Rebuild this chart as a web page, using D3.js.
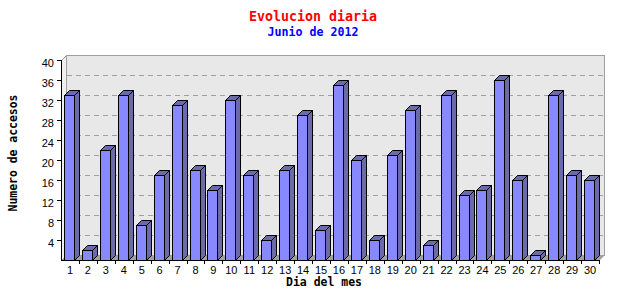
<!DOCTYPE html>
<html lang="es">
<head>
    <meta charset="UTF-8">
    <script src="https://cdn.jsdelivr.net/npm/d3@7/dist/d3.min.js"></script>
    <title>Evolucion diaria</title>
    <style>
        body { margin: 0; background: #fff; }
        svg { display: block; }
    </style>
</head>
<body>
    <svg id="chart"></svg>
</body>

<script>
    const dias = ["1","2","3","4","5","6","7","8","9","10","11","12","13","14","15",
                  "16","17","18","19","20","21","22","23","24","25","26","27","28","29","30"];
    const accesos = [33, 2, 22, 33, 7, 17, 31, 18, 14, 32, 17, 4, 18, 29, 6,
                     35, 20, 4, 21, 30, 3, 33, 13, 14, 36, 16, 1, 33, 17, 16];
    const yTicks = [4, 8, 12, 16, 20, 24, 28, 32, 36, 40];

    const width = 640, height = 300;
    const depth = 5;   // 3d offset of the back wall
    const plotL = 61, plotR = 599, plotT = 60, plotB = 260;

    const svg = d3.select("#chart")
        .attr("width", width)
        .attr("height", height);

    const x = d3.scaleBand().domain(dias).range([plotL, plotR]);
    const y = d3.scaleLinear().domain([0, 40]).range([plotB, plotT]);

    // back wall, side wall and floor
    svg.append("rect")
        .attr("x", plotL + depth + 0.5)
        .attr("y", plotT - depth + 0.5)
        .attr("width", plotR - plotL)
        .attr("height", plotB - plotT)
        .attr("fill", "#e8e8e8")
        .attr("stroke", "#a0a0a0");

    svg.append("path")
        .attr("d", `M${plotL + 0.5},${plotT + 0.5}L${plotL + depth + 0.5},${plotT - depth + 0.5}V${plotB - depth + 0.5}L${plotL + 0.5},${plotB + 0.5}Z`)
        .attr("fill", "#f0f0f0")
        .attr("stroke", "#a0a0a0");

    svg.append("path")
        .attr("d", `M${plotL + 0.5},${plotB + 0.5}L${plotL + depth + 0.5},${plotB - depth + 0.5}H${plotR + depth + 0.5}L${plotR + 0.5},${plotB + 0.5}Z`)
        .attr("fill", "#a0a0a0");

    // dashed grid on the back wall
    svg.append("g")
        .selectAll("line")
        .data(yTicks.filter(d => d < 40))
        .join("line")
        .attr("x1", plotL + depth + 1)
        .attr("x2", plotR + depth)
        .attr("y1", d => Math.round(y(d)) - depth + 0.5)
        .attr("y2", d => Math.round(y(d)) - depth + 0.5)
        .attr("stroke", "#a0a0a0")
        .attr("stroke-dasharray", "5,4");

    // bars
    const bw = 10;
    const bars = svg.append("g")
        .attr("stroke", "#000")
        .selectAll("g")
        .data(accesos)
        .join("g")
        .attr("transform", (d, i) => `translate(${Math.round(x(dias[i]) + 3) + 0.5},0)`);

    bars.append("path")
        .attr("fill", "#6b6bab")
        .attr("d", d => {
            const t = Math.round(y(d)) + 0.5;
            return `M${bw},${t}L${bw + depth},${t - depth}V${plotB - depth + 0.5}L${bw},${plotB + 0.5}Z`;
        });

    bars.append("path")
        .attr("fill", "#6b6bab")
        .attr("d", d => {
            const t = Math.round(y(d)) + 0.5;
            return `M0,${t}L${depth},${t - depth}H${bw + depth}L${bw},${t}Z`;
        });

    bars.append("rect")
        .attr("fill", "#8888ff")
        .attr("x", 0)
        .attr("y", d => Math.round(y(d)) + 0.5)
        .attr("width", bw)
        .attr("height", d => plotB - Math.round(y(d)));

    // y axis
    const yAxis = svg.append("g");
    yAxis.append("line")
        .attr("x1", plotL + 0.5).attr("x2", plotL + 0.5)
        .attr("y1", plotT).attr("y2", plotB + 1)
        .attr("stroke", "#000");
    yAxis.selectAll("line.tick")
        .data(yTicks)
        .join("line")
        .attr("class", "tick")
        .attr("x1", plotL - 4).attr("x2", plotL)
        .attr("y1", d => Math.round(y(d)) + 0.5)
        .attr("y2", d => Math.round(y(d)) + 0.5)
        .attr("stroke", "#000");
    yAxis.selectAll("text")
        .data(yTicks)
        .join("text")
        .attr("x", plotL - 7)
        .attr("y", d => y(d) + 7)
        .attr("text-anchor", "end")
        .attr("font-family", "Liberation Sans, Arial, sans-serif")
        .attr("font-size", 11)
        .text(d => d);

    // x axis
    const xAxis = svg.append("g");
    xAxis.append("line")
        .attr("x1", plotL).attr("x2", plotR + 1)
        .attr("y1", plotB + 0.5).attr("y2", plotB + 0.5)
        .attr("stroke", "#000");
    xAxis.selectAll("line.tick")
        .data(dias)
        .join("line")
        .attr("class", "tick")
        .attr("x1", d => Math.round(x(d) + x.bandwidth()) + 0.5)
        .attr("x2", d => Math.round(x(d) + x.bandwidth()) + 0.5)
        .attr("y1", plotB).attr("y2", plotB + 4)
        .attr("stroke", "#000");
    xAxis.selectAll("text")
        .data(dias)
        .join("text")
        .attr("x", d => x(d) + x.bandwidth() / 2)
        .attr("y", 273.5)
        .attr("text-anchor", "middle")
        .attr("font-family", "Liberation Sans, Arial, sans-serif")
        .attr("font-size", 11)
        .text(d => d);

    // titles
    const mono = "DejaVu Sans Mono, monospace";
    svg.append("text")
        .attr("x", 313).attr("y", 21)
        .attr("text-anchor", "middle")
        .attr("font-family", mono).attr("font-weight", "bold")
        .attr("font-size", 14)
        .attr("textLength", 128).attr("lengthAdjust", "spacingAndGlyphs")
        .attr("fill", "#ff0000")
        .text("Evolucion diaria");

    svg.append("text")
        .attr("x", 313).attr("y", 36)
        .attr("text-anchor", "middle")
        .attr("font-family", mono).attr("font-weight", "bold")
        .attr("font-size", 12)
        .attr("textLength", 91).attr("lengthAdjust", "spacingAndGlyphs")
        .attr("fill", "#0000ff")
        .text("Junio de 2012");

    svg.append("text")
        .attr("x", 324).attr("y", 286)
        .attr("text-anchor", "middle")
        .attr("font-family", mono).attr("font-weight", "bold")
        .attr("font-size", 12)
        .attr("textLength", 76).attr("lengthAdjust", "spacingAndGlyphs")
        .text("Dia del mes");

    svg.append("text")
        .attr("transform", "translate(17,153) rotate(-90)")
        .attr("text-anchor", "middle")
        .attr("font-family", mono).attr("font-weight", "bold")
        .attr("font-size", 12)
        .attr("textLength", 117).attr("lengthAdjust", "spacingAndGlyphs")
        .text("Numero de accesos");
</script>
</html>
